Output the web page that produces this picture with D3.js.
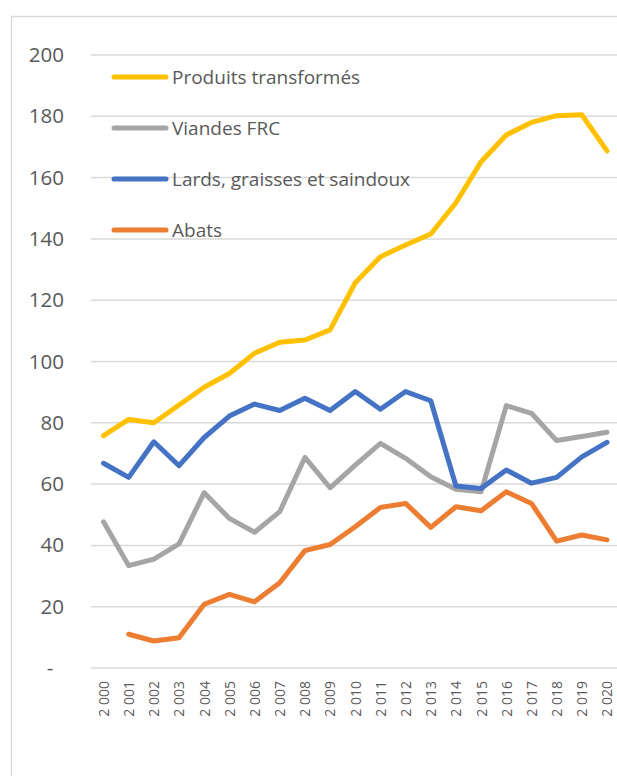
<!DOCTYPE html>
<html>
<head>
<meta charset="utf-8">
<script src="https://cdn.jsdelivr.net/npm/d3@7"></script>
<style>
  body { margin: 0; background: #fff; }
  svg { display: block; font-family: "Open Sans", sans-serif; }
</style>
</head>
<body>
<div id="chart"></div>
<script>
// years and series
var years = d3.range(2000, 2021);
var yTicks = [0, 20, 40, 60, 80, 100, 120, 140, 160, 180, 200];

var produits = [75.8, 81.1, 80.0, 85.8, 91.6, 96.1, 102.7, 106.3, 107.0, 110.3, 125.7, 134.2, 138.0, 141.6, 151.8, 165.2, 173.9, 178.0, 180.2, 180.5, 168.7];
var viandes = [47.7, 33.4, 35.5, 40.5, 57.2, 48.8, 44.3, 51.0, 68.7, 58.8, 66.2, 73.3, 68.4, 62.4, 58.3, 57.5, 85.6, 83.1, 74.2, 75.5, 76.9];
var lards = [66.8, 62.2, 73.8, 66.0, 75.2, 82.2, 86.1, 84.0, 88.0, 84.0, 90.2, 84.4, 90.2, 87.2, 59.4, 58.6, 64.6, 60.3, 62.2, 68.9, 73.6];
var abats = [null, 11.0, 8.8, 9.9, 20.8, 24.0, 21.6, 27.8, 38.3, 40.3, 46.1, 52.4, 53.7, 45.9, 52.6, 51.3, 57.5, 53.7, 41.4, 43.4, 41.8];

var seriesNames = ["Produits transformés", "Viandes FRC", "Lards, graisses et saindoux", "Abats"];
var seriesColors = ["#FFC000", "#A5A5A5", "#4472C4", "#ED7D31"];
var seriesValues = [produits, viandes, lards, abats];

var W = 617, H = 776;

var svg = d3.select("#chart")
  .append("svg")
  .attr("width", W)
  .attr("height", H);

// chart area border (runs past the right/bottom edge)
svg.append("rect")
  .attr("x", 11.5)
  .attr("y", 16.5)
  .attr("width", W + 20)
  .attr("height", H + 20)
  .attr("fill", "white")
  .attr("stroke", "#d9d9d9")
  .attr("stroke-width", 1.5);

var x = d3.scalePoint()
  .domain(years)
  .range([103.5, 607]);

var y = d3.scaleLinear()
  .domain([0, 200])
  .range([668, 55]);

// gridlines
svg.append("g")
  .selectAll("line")
  .data(yTicks)
  .enter()
  .append("line")
    .attr("x1", 91)
    .attr("x2", W + 5)
    .attr("y1", d => y(d))
    .attr("y2", d => y(d))
    .attr("stroke", "#d9d9d9")
    .attr("stroke-width", 1.5);

// y axis labels (zero shown as a dash, accounting style)
var yAxis = svg.append("g")
  .attr("transform", "translate(64,0)")
  .call(d3.axisLeft(y).tickValues(yTicks).tickSize(0).tickPadding(0)
    .tickFormat(d => d === 0 ? "-  " : d));
yAxis.select(".domain").remove();
yAxis.selectAll("text")
  .style("font-family", "'Open Sans', sans-serif")
  .style("font-size", "20.5px")
  .style("white-space", "pre")
  .attr("fill", "#595959");

// x axis labels, rotated
var xAxis = svg.append("g")
  .attr("transform", "translate(0,668)")
  .call(d3.axisBottom(x).tickSize(0).tickPadding(0)
    .tickFormat(d => String(d).slice(0, 1) + " " + String(d).slice(1)));
xAxis.select(".domain").remove();
xAxis.selectAll("text")
  .style("font-family", "'Open Sans', sans-serif")
  .style("font-size", "14px")
  .attr("fill", "#595959")
  .attr("text-anchor", "end")
  .attr("transform", "rotate(-90)")
  .attr("x", -13)
  .attr("y", 0)
  .attr("dy", "0.35em");

// lines
var line = d3.line()
  .defined(d => d != null)
  .x((d, i) => x(years[i]))
  .y(d => y(d));

// draw in Excel's order: first series at the back
svg.append("g")
  .selectAll("path")
  .data(seriesValues)
  .enter()
  .append("path")
    .attr("fill", "none")
    .attr("stroke", (d, i) => seriesColors[i])
    .attr("stroke-width", 5)
    .attr("stroke-linejoin", "round")
    .attr("stroke-linecap", "round")
    .attr("d", d => line(d));

// legend
var legend = svg.append("g")
  .attr("transform", "translate(114,0)");

var legendRows = [77, 128, 179, 230];

var item = legend.selectAll("g")
  .data(seriesNames)
  .enter()
  .append("g")
    .attr("transform", (d, i) => "translate(0," + legendRows[i] + ")");

item.append("line")
  .attr("x1", 0)
  .attr("x2", 52)
  .attr("stroke", (d, i) => seriesColors[i])
  .attr("stroke-width", 5)
  .attr("stroke-linecap", "round");

item.append("text")
  .attr("x", 58)
  .attr("dy", "0.35em")
  .style("font-size", "19px")
  .attr("fill", "#595959")
  .text(d => d);
</script>
</body>
</html>
